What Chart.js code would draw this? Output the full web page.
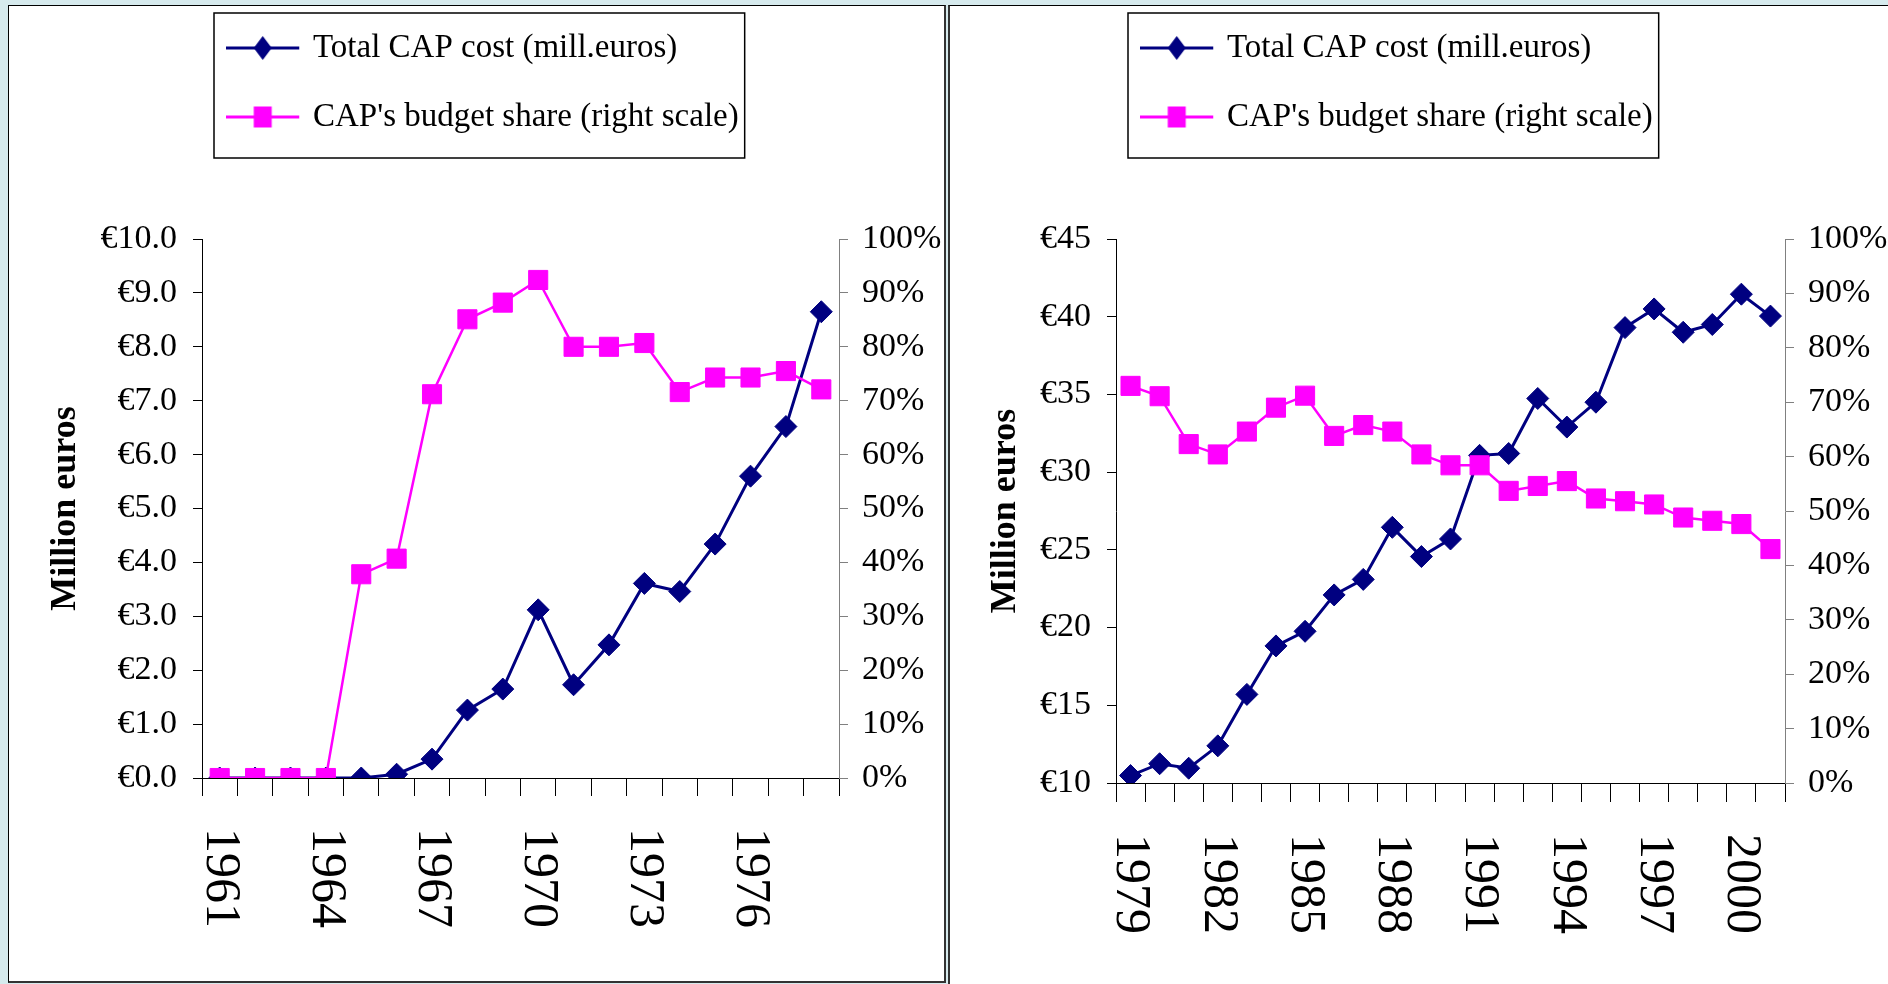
<!DOCTYPE html>
<html>
<head>
<meta charset="utf-8">
<title>CAP cost and budget share</title>
<script src="https://cdn.jsdelivr.net/npm/chart.js@4.4.1/dist/chart.umd.min.js"></script>
<style>
  html, body { margin: 0; padding: 0; }
  body { width: 1888px; height: 984px; background: #d6eaed; position: relative; overflow: hidden; }
  .panel { position: absolute; background: #fff; box-sizing: border-box; }
  #p1 { left: 8px; top: 5px; width: 938px; height: 978px; border-left: 1px solid #000; border-top: 1px solid #000; border-right: 2px solid #333; border-bottom: 2px solid #333; }
  #p2 { left: 948px; top: 5px; width: 950px; height: 990px; border-left: 2px solid #333; border-top: 1px solid #000; }
  canvas { position: absolute; top: -10px; }
  #c1 { left: 0; }
  #c2 { left: 950px; }
</style>
</head>
<body>
<div class="panel" id="p1"></div>
<div class="panel" id="p2"></div>
<canvas id="c1" width="946" height="1000"></canvas>
<canvas id="c2" width="938" height="1000"></canvas>
<script>
// 1961-1978
const yearsLeft = ['1961', '1962', '1963', '1964', '1965', '1966', '1967', '1968', '1969',
  '1970', '1971', '1972', '1973', '1974', '1975', '1976', '1977', '1978'];
const costLeft = [0, 0, 0, 0, 0, 0.07, 0.35, 1.26, 1.65, 3.12, 1.73, 2.47, 3.61, 3.46, 4.34, 5.6, 6.52, 8.65];
const shareLeft = [0, 0, 0, 0, 37.8, 40.7, 71.2, 85.1, 88.2, 92.4, 80.0, 80.0, 80.7, 71.6, 74.3, 74.3, 75.5, 72.1];

// 1979-2001
const yearsRight = ['1979', '1980', '1981', '1982', '1983', '1984', '1985', '1986', '1987', '1988',
  '1989', '1990', '1991', '1992', '1993', '1994', '1995', '1996', '1997', '1998', '1999', '2000', '2001'];
const costRight = [10.48, 11.24, 10.95, 12.39, 15.7, 18.82, 19.76, 22.1, 23.1, 26.45, 24.57, 25.7,
  31.08, 31.2, 34.74, 32.9, 34.5, 39.3, 40.5, 39.0, 39.5, 41.45, 40.04];
const shareRight = [73.0, 71.1, 62.3, 60.4, 64.6, 69.0, 71.2, 63.8, 65.8, 64.6, 60.4, 58.4,
  58.4, 53.7, 54.6, 55.5, 52.3, 51.8, 51.2, 48.8, 48.2, 47.6, 43.0];

const NAVY = '#000080';
const MAGENTA = '#ff00ff';

Chart.defaults.font.family = '"Liberation Serif", "Times New Roman", serif';
Chart.defaults.color = '#000';

// legend samples: a line with its marker on it
const makeSample = (color, shape) => {
  const c = document.createElement('canvas');
  c.width = 82;
  c.height = 28;
  const ctx = c.getContext('2d');
  ctx.strokeStyle = color;
  ctx.lineWidth = 3;
  ctx.beginPath();
  ctx.moveTo(0, 14);
  ctx.lineTo(73, 14);
  ctx.stroke();
  ctx.fillStyle = color;
  ctx.beginPath();
  if (shape === 'diamond') {
    ctx.moveTo(36.5, 2);
    ctx.lineTo(45.5, 14);
    ctx.lineTo(36.5, 26);
    ctx.lineTo(27.5, 14);
  } else {
    ctx.rect(27.5, 3.5, 18, 21);
  }
  ctx.fill();
  return c;
};
const costSample = makeSample(NAVY, 'diamond');
const shareSample = makeSample(MAGENTA, 'square');

// frame round the legend
const legendFrame = {
  id: 'legendFrame',
  afterDraw(chart) {
    const boxes = chart.legend.legendHitBoxes;
    if (!boxes || !boxes.length) return;
    const half = boxes[0].height / 2;
    const left = boxes[0].left - 24;
    const right = Math.max(...boxes.map(b => b.left + b.width)) + 6;
    const top = boxes[0].top + half - 35;
    const bottom = boxes[boxes.length - 1].top + half + 41;
    const ctx = chart.ctx;
    ctx.save();
    ctx.strokeStyle = '#000';
    ctx.lineWidth = 1.5;
    ctx.strokeRect(left, top, right - left, bottom - top);
    ctx.restore();
  }
};

const buildChart = (id, years, cost, share, o) => new Chart(document.getElementById(id), {
  type: 'line',
  data: {
    labels: years,
    datasets: [
      {
        label: 'Total CAP cost (mill.euros)',
        data: cost,
        xAxisID: 'x',
        yAxisID: 'y',
        order: 1,
        borderColor: NAVY,
        backgroundColor: NAVY,
        borderWidth: 3,
        pointStyle: 'rectRot',
        pointRadius: 11,
        pointBorderWidth: 1,
      },
      {
        label: "CAP's budget share (right scale)",
        data: share,
        xAxisID: 'x',
        yAxisID: 'y2',
        order: 0,
        borderColor: MAGENTA,
        backgroundColor: MAGENTA,
        borderWidth: 2.5,
        pointStyle: 'rect',
        pointRadius: 13.5,
        pointBorderWidth: 1,
      },
    ],
  },
  options: {
    responsive: false,
    animation: false,
    events: [],
    layout: { padding: { top: 5.5, left: 0, right: 0, bottom: 0 } },
    plugins: {
      tooltip: { enabled: false },
      legend: {
        position: 'top',
        align: 'start',
        fullSize: false,
        labels: {
          usePointStyle: true,
          pointStyleWidth: 58.5,
          padding: 36,
          color: '#000',
          font: { size: 33 },
          sort: (a, b) => a.datasetIndex - b.datasetIndex,
          generateLabels: chart => {
            const items = Chart.defaults.plugins.legend.labels.generateLabels(chart);
            items.forEach(it => { it.pointStyle = it.datasetIndex === 0 ? costSample : shareSample; });
            return items;
          },
        },
      },
    },
    scales: {
      x: {
        offset: true,
        grid: { offset: true, drawOnChartArea: false, color: '#000', tickLength: o.tickX },
        border: { color: '#000', width: 1 },
        ticks: {
          autoSkip: false,
          minRotation: -90,
          maxRotation: -90,
          padding: 132,
          color: '#000',
          font: { size: 50 },
          callback: (v, i) => (i % 3 === 0 ? years[i] : ''),
        },
        afterFit: s => { s.height = o.bottomHeight; },
      },
      top: {
        type: 'category',
        position: 'top',
        grid: { display: false },
        border: { display: false },
        ticks: { display: false },
        afterFit: s => { s.height = 95.5; },
      },
      y: {
        position: 'left',
        min: o.yMin,
        max: o.yMax,
        ticks: { stepSize: o.yStep, padding: 16, color: '#000', font: { size: 34 }, callback: o.yFmt },
        grid: { drawOnChartArea: false, tickLength: 9, color: '#000' },
        border: { color: '#000' },
        title: {
          display: true,
          text: 'Million euros',
          color: '#000',
          font: { size: 36, weight: 'bold' },
          padding: { top: o.titlePad, bottom: 0 },
        },
        afterFit: s => { s.width = o.leftWidth; },
      },
      y2: {
        position: 'right',
        min: 0,
        max: 100,
        ticks: { stepSize: 10, padding: 14, color: '#000', font: { size: 34 }, callback: v => v + '%' },
        grid: { drawOnChartArea: false, tickLength: 9, color: '#808080' },
        border: { color: '#808080' },
        afterFit: s => { s.width = o.rightWidth; },
      },
    },
  },
  plugins: [legendFrame],
});

buildChart('c1', yearsLeft, costLeft, shareLeft, {
  yMin: 0, yMax: 10, yStep: 1, yFmt: v => '€' + v.toFixed(1),
  leftWidth: 202, rightWidth: 107, titlePad: 44, bottomHeight: 212, tickX: 18,
});
buildChart('c2', yearsRight, costRight, shareRight, {
  yMin: 10, yMax: 45, yStep: 5, yFmt: v => '€' + v,
  leftWidth: 166, rightWidth: 103, titlePad: 34, bottomHeight: 207, tickX: 19,
});
</script>
</body>
</html>
